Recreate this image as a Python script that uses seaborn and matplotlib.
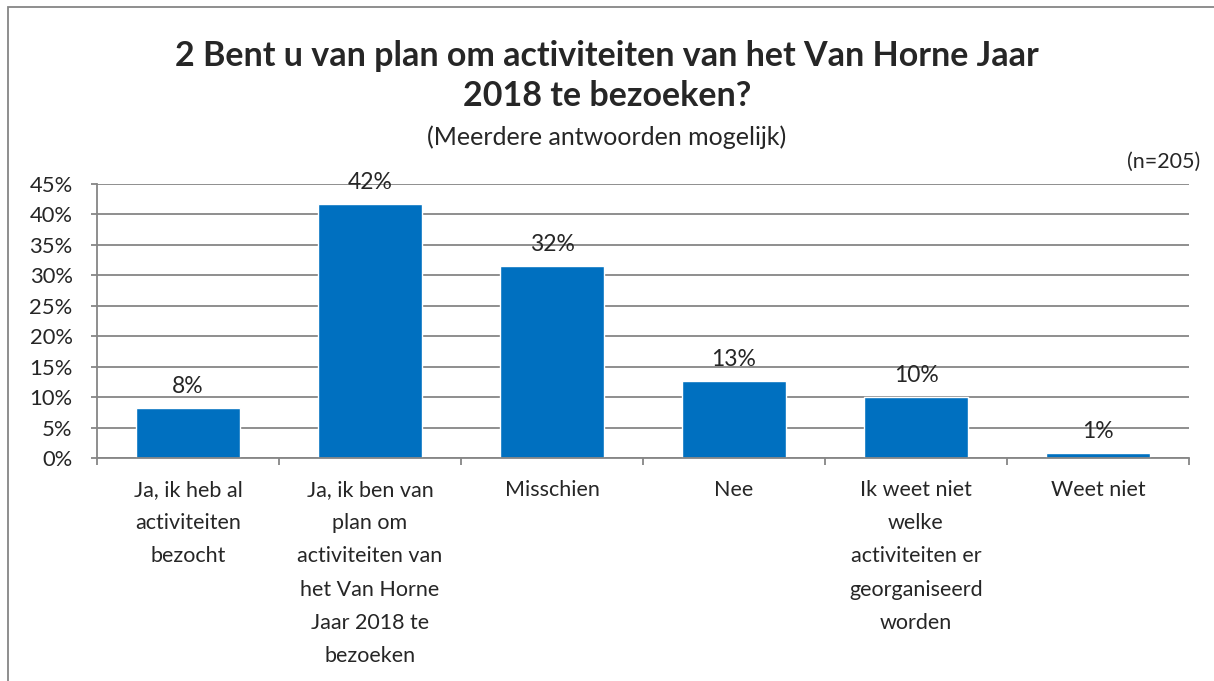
import matplotlib
matplotlib.use("Agg")
import matplotlib.pyplot as plt
import seaborn as sns
import pandas as pd
from matplotlib.patches import Rectangle
from matplotlib.ticker import PercentFormatter

categories = [
    "Ja, ik heb al\nactiviteiten\nbezocht",
    "Ja, ik ben van\nplan om\nactiviteiten van\nhet Van Horne\nJaar 2018 te\nbezoeken",
    "Misschien",
    "Nee",
    "Ik weet niet\nwelke\nactiviteiten er\ngeorganiseerd\nworden",
    "Weet niet",
]
values = [8.2, 41.7, 31.6, 12.7, 10.0, 0.8]
value_labels = ["8%", "42%", "32%", "13%", "10%", "1%"]
y_ticks = [0, 5, 10, 15, 20, 25, 30, 35, 40, 45]

sns.set_theme(style="white")
plt.rcParams['font.family'] = ['Lato', 'DejaVu Sans']

df = pd.DataFrame({"cat": categories, "val": values})

fig = plt.figure(figsize=(12.14, 6.81), dpi=100)
ax = fig.add_axes([97 / 1214, 1 - 458 / 681, (1189 - 97) / 1214, (458 - 184) / 681])

sns.barplot(data=df, x="cat", y="val", color="#0070C0", saturation=1, width=0.57, ax=ax)

grid_col = "#868686"
ax.set_ylim(0, 45)
ax.set_xlim(-0.5, len(categories) - 0.5)
ax.set_yticks(y_ticks)
ax.yaxis.set_major_formatter(PercentFormatter(decimals=0))
ax.grid(axis="y", color=grid_col, linewidth=1.3)
ax.set_axisbelow(True)
for s in ["top", "right"]:
    ax.spines[s].set_visible(False)
for s in ["left", "bottom"]:
    ax.spines[s].set_color(grid_col)
    ax.spines[s].set_linewidth(1.3)

# category boundary ticks
ax.set_xticks([i - 0.5 for i in range(len(categories) + 1)], minor=True)
ax.tick_params(axis="x", which="minor", length=5, color=grid_col, width=1.3, direction="out", bottom=True)
ax.tick_params(axis="x", which="major", length=0, pad=16, labelsize=15.5)
ax.tick_params(axis="y", which="major", length=4.5, color=grid_col, width=1.3, direction="out", left=True,
               labelsize=15.8, pad=13)
ax.set_xticklabels(categories, linespacing=1.82, va="top")
ax.set_xlabel("")
ax.set_ylabel("")

for i, (v, lab) in enumerate(zip(values, value_labels)):
    ax.text(i, v + 1.8, lab, ha="center", va="bottom", fontsize=16.5)

fig.text(0.5, 1 - 76 / 681, "2 Bent u van plan om activiteiten van het Van Horne Jaar\n2018 te bezoeken?",
         ha="center", va="center", fontsize=24.5, fontweight="bold", linespacing=1.3)
fig.text(0.5, 1 - 137 / 681, "(Meerdere antwoorden mogelijk)", ha="center", va="center", fontsize=18)
fig.text(1200 / 1214, 1 - 162 / 681, "(n=205)", ha="right", va="center", fontsize=15.5)

fig.patches.append(Rectangle((8 / 1214, -0.1), 1.2, 1 - 7 / 681 + 0.1, transform=fig.transFigure,
                             fill=False, edgecolor=grid_col, linewidth=1.3))

fig.savefig("out.png", dpi=100)
